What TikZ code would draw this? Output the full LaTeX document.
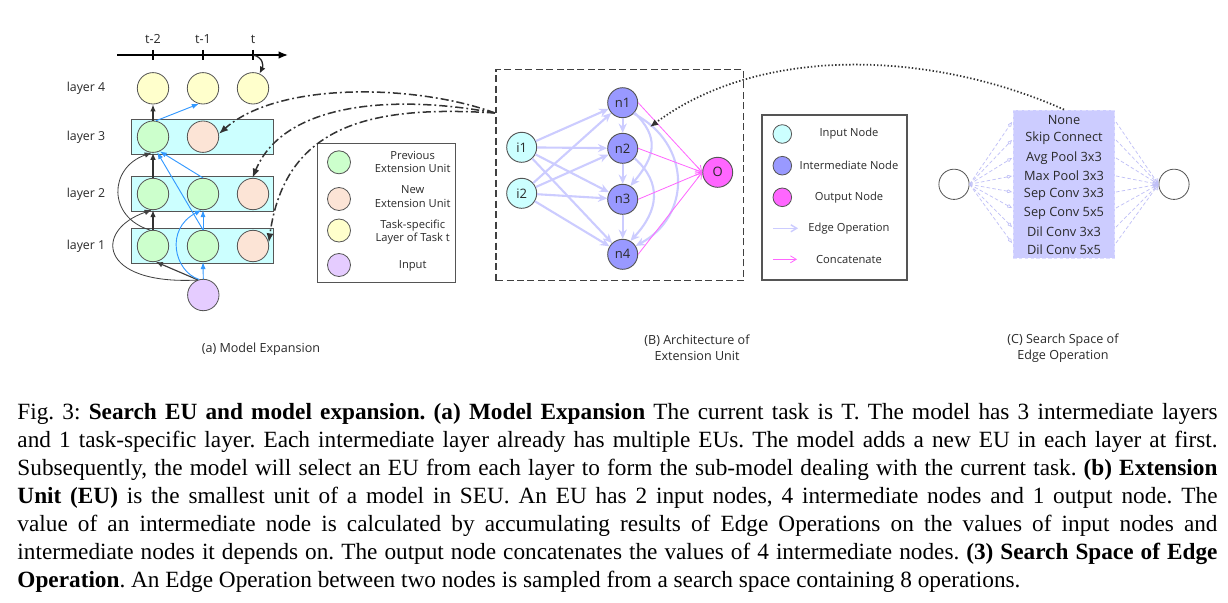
\documentclass[tikz,border=0pt]{standalone}
\usepackage{fontspec}
\setmainfont{Liberation Serif}
\newfontfamily\figfont{Open Sans}
\usetikzlibrary{arrows.meta}
\definecolor{cgreen}{HTML}{CCFFCC}
\definecolor{cpeach}{HTML}{FCE4D6}
\definecolor{cyell}{HTML}{FFFFCC}
\definecolor{cpurp}{HTML}{E5CCFF}
\definecolor{ccyan}{HTML}{CCFFFF}
\definecolor{cblue}{HTML}{3399FF}
\definecolor{cinter}{HTML}{9999FF}
\definecolor{cout}{HTML}{FF66FF}
\definecolor{clav}{HTML}{CCCCFF}
\definecolor{clavline}{HTML}{BFBFF7}
\definecolor{cedge}{HTML}{555555}
\definecolor{ctext}{HTML}{2A2A2A}
\frenchspacing
\begin{document}
\begin{tikzpicture}[x=0.43pt,y=-0.43pt,
  font=\figfont\fontsize{5.3}{6}\selectfont, text=ctext,
  unit/.style={circle, draw=cedge, line width=0.35pt, minimum size=13.5pt, inner sep=0pt},
  legc/.style={circle, draw=cedge, line width=0.35pt, minimum size=9.9pt, inner sep=0pt},
  legbc/.style={circle, draw=cedge, line width=0.35pt, minimum size=8pt, inner sep=0pt},
  layerbox/.style={draw=cedge, fill=ccyan, line width=0.5pt, minimum width=60.9pt, minimum height=15pt, inner sep=0pt},
  legtext/.style={align=center, font=\figfont\fontsize{4.8}{5.8}\selectfont},
  blk/.style={draw=black!80, line width=0.7pt, -{Latex[length=3pt,width=2.4pt]}},
  thinblk/.style={draw=black!75, line width=0.35pt, -{Latex[length=3pt,width=2.4pt]}},
  blu/.style={draw=cblue, line width=0.4pt, -{Latex[length=3pt,width=2.2pt]}},
  dashdot/.style={draw=black!80, line width=0.65pt, dash pattern=on 3.5pt off 1.3pt on 0.8pt off 1.3pt, -{Latex[length=4pt,width=3pt]}},
  euc/.style={circle, draw=cedge, line width=0.4pt, minimum size=12.9pt, inner sep=0pt, font=\figfont\fontsize{5.6}{6}\selectfont},
  eop/.style={draw=clav, line width=0.9pt, -{Stealth[length=4pt,width=3.5pt]}},
  cat/.style={draw=cout, line width=0.35pt, -{Straight Barb[length=2.5pt,width=3pt]}},
  ssline/.style={draw=clavline, line width=0.3pt, dash pattern=on 1.5pt off 1pt},
  optext/.style={font=\figfont\fontsize{5.5}{6}\selectfont, inner sep=0pt},
  caplabel/.style={align=center, font=\figfont\fontsize{5.4}{6.9}\selectfont}
]
\useasboundingbox (0,0) rectangle (1228,602);
\fill[white] (0,0) rectangle (1228,602);

% ---------------- (a) Model Expansion ----------------
\coordinate (ax0) at (117,55);
\coordinate (ax1) at (288,55);
\draw[line width=0.6pt, -{Latex[length=4pt,width=3.2pt]}] (ax0) -- (ax1);
\coordinate (tk1) at (153,55);
\coordinate (tk2) at (203,55);
\coordinate (tk3) at (253,55);
\foreach \t in {tk1,tk2,tk3} \draw[line width=0.6pt] ([yshift=2.2pt]\t) -- ([yshift=-2.2pt]\t);
\node[font=\figfont\fontsize{5.4}{6}\selectfont] (lt1) at (153,39) {t-2};
\node[font=\figfont\fontsize{5.4}{6}\selectfont] (lt2) at (203,39) {t-1};
\node[font=\figfont\fontsize{5.4}{6}\selectfont] (lt3) at (253,39) {t};

\node (lay4) at (86,88) {layer 4};
\node (lay3) at (86,137) {layer 3};
\node (lay2) at (86,194) {layer 2};
\node (lay1) at (86,246) {layer 1};

\node[layerbox] (r3) at (202.5,136.8) {};
\node[layerbox] (r2) at (202.5,194.2) {};
\node[layerbox] (r1) at (202.5,245.8) {};

\node[unit, fill=cyell] (L4a) at (153,88.3) {};
\node[unit, fill=cyell] (L4b) at (203,88.3) {};
\node[unit, fill=cyell] (L4c) at (253,88.3) {};
\node[unit, fill=cgreen] (L3a) at (153,136.7) {};
\node[unit, fill=cpeach] (L3b) at (203,136.7) {};
\node[unit, fill=cgreen] (L2a) at (153,194) {};
\node[unit, fill=cgreen] (L2b) at (203,194) {};
\node[unit, fill=cpeach] (L2c) at (253,194) {};
\node[unit, fill=cgreen] (L1a) at (153,246) {};
\node[unit, fill=cgreen] (L1b) at (203,246) {};
\node[unit, fill=cpeach] (L1c) at (253,246) {};
\node[unit, fill=cpurp] (inp) at (203.3,295) {};

\draw[black!85, line width=0.55pt, -{Latex[length=3pt,width=2.6pt]}] (tk3) .. controls +(10,2) and +(4,-8) .. (L4c.66);

\draw[blk] (L1a.north) -- (L2a.south);
\draw[blk] (L2a.north) -- (L3a.south);
\draw[blk] (L3a.north) -- (L4a.south);
\draw[thinblk, line width=0.5pt] (inp.110) -- (L1a.-80);
\draw[thinblk] (inp.112) .. controls +(-99,5) and +(-58,20) .. (L2a.-95);
\draw[thinblk] (L1a.100) .. controls +(-43,-13) and +(-43,15) .. (L3a.-95);

\draw[blu] (inp.north) -- (L1b.south);
\draw[blu] (inp.105) .. controls +(-25,-8) and +(-37,19) .. (L2b.-95);
\draw[blu] (L1b.north) -- (L2b.south);
\draw[blu] (L1b.north) -- (L3a.-75);
\draw[blu] (L2b.north) -- (L3a.-65);
\draw[blu] (L3a.80) -- (L4b.-105);

% legend (a)
\node[draw=cedge, line width=0.45pt, minimum width=59.5pt, minimum height=59.9pt, inner sep=0pt] (lega) at (386.5,213) {};
\node[legc, fill=cgreen] (lga1) at (339,162.3) {};
\node[legc, fill=cpeach] (lga2) at (339,199) {};
\node[legc, fill=cyell] (lga3) at (339,230.5) {};
\node[legc, fill=cpurp] (lga4) at (339,265) {};
\node[legtext] (lta1) at (412.7,161.7) {Previous\\Extension Unit};
\node[legtext] (lta2) at (412.7,196.7) {New\\Extension Unit};
\node[legtext] (lta3) at (412.7,232) {Task-specific\\Layer of Task t};
\node[legtext] (lta4) at (412.7,266) {Input};

% ---------------- (B) Architecture ----------------
\node[draw=black!75, line width=0.6pt, dash pattern=on 3pt off 1.5pt, minimum width=106.3pt, minimum height=90.9pt, inner sep=0pt] (eubox) at (619.7,175) {};
\coordinate (ddstart) at (495,113);

\draw[dashdot] (ddstart) .. controls (420,85) and (280,80) .. (L3b.10);
\draw[dashdot] (ddstart) .. controls (400,95) and (285,100) .. (L2c.92);
\draw[dashdot] (ddstart) .. controls (370,105) and (285,125) .. (L1c.12);

\node[euc, fill=ccyan] (i1) at (521.7,147.3) {i1};
\node[euc, fill=ccyan] (i2) at (521.7,193.3) {i2};
\node[euc, fill=cinter] (n1) at (622.7,102.7) {n1};
\node[euc, fill=cinter] (n2) at (622.7,148.3) {n2};
\node[euc, fill=cinter] (n3) at (622.7,199.3) {n3};
\node[euc, fill=cinter] (n4) at (622.7,254.3) {n4};
\node[euc, fill=cout] (o) at (717.7,172.3) {O};

\foreach \a in {i1,i2} \foreach \b in {n1,n2,n3,n4} \draw[eop] (\a) -- (\b);
\draw[eop] (n1) -- (n2);
\draw[eop] (n2) -- (n3);
\draw[eop] (n3) -- (n4);
\draw[eop] (n1.-40) .. controls +(25,25) and +(25,-30) .. (n3.60);
\draw[eop] (n2.-40) .. controls +(28,25) and +(28,-30) .. (n4.60);
\draw[eop] (n1.-45) .. controls +(58,30) and +(56,-30) .. (n4.33);
\foreach \b in {n1,n2,n3,n4} \draw[cat] (\b.east) -- (o.west);

% legend (B)
\node[draw=cedge, line width=0.45pt, minimum width=62.35pt, minimum height=70.95pt, inner sep=0pt] (legb) at (834.5,197.5) {};
\node[legbc, fill=ccyan] (lgb1) at (782.3,134) {};
\node[legbc, fill=cinter] (lgb2) at (782.3,165.7) {};
\node[legbc, fill=cout] (lgb3) at (782.3,197.3) {};
\coordinate (lgb4a) at (773,228.3);
\coordinate (lgb4b) at (798,228.3);
\coordinate (lgb5a) at (773,259.3);
\coordinate (lgb5b) at (797,259.3);
\draw[draw=clav, line width=0.6pt, -{Straight Barb[length=2.5pt,width=3pt]}] (lgb4a) -- (lgb4b);
\draw[cat] (lgb5a) -- (lgb5b);
\node[legtext] (ltb1) at (849,134) {Input Node};
\node[legtext] (ltb2) at (849,165.7) {Intermediate Node};
\node[legtext] (ltb3) at (849,197.3) {Output Node};
\node[legtext] (ltb4) at (849,228.3) {Edge Operation};
\node[legtext] (ltb5) at (849,259.3) {Concatenate};

% ---------------- (C) Search Space ----------------
\node[fill=clav, draw=white!40!clav, line width=0.4pt, dash pattern=on 1.5pt off 1pt, minimum width=43.7pt, minimum height=63.8pt, inner sep=0pt] (ss) at (1064,184.2) {};
\node[unit, minimum size=13pt, fill=white] (sL) at (954,184.3) {};
\node[unit, minimum size=13pt, fill=white] (sR) at (1174,184.3) {};
\node[optext] (op1) at (1064,120) {None};
\node[optext] (op2) at (1064,138.3) {Skip Connect};
\node[optext] (op3) at (1064,157.7) {Avg Pool 3x3};
\node[optext] (op4) at (1064,176) {Max Pool 3x3};
\node[optext] (op5) at (1064,194.3) {Sep Conv 3x3};
\node[optext] (op6) at (1064,213) {Sep Conv 5x5};
\node[optext] (op7) at (1064,231.3) {Dil Conv 3x3};
\node[optext] (op8) at (1064,250) {Dil Conv 5x5};
\foreach \k/\yy in {1/122,2/140,3/158,4/176,5/192,6/208,7/227,8/243} {
  \coordinate (sl\k) at (1012,\yy);
  \coordinate (sr\k) at (1116,\yy);
  \draw[ssline, -{Kite[open, length=2.4pt, width=1.6pt]}] (sL.east) -- (sl\k);
  \draw[ssline, -{Straight Barb[length=2pt,width=2.4pt]}] (sr\k) -- (sR.west);
}

\coordinate (dotend) at (650,127);
\draw[black!80, line width=0.75pt, dash pattern=on 0.6pt off 0.9pt, -{Latex[length=3.5pt,width=3pt]}] (ss.north) .. controls (930,50) and (760,45) .. (dotend);

% captions of panels
\node[caplabel] (capa) at (261,349) {(a) Model Expansion};
\node[caplabel] (capb) at (697,348) {(B) Architecture of\\Extension Unit};
\node[caplabel] (capc) at (1063,348) {(C) Search Space of\\Edge Operation};

% ---------------- Figure caption ----------------
\node[anchor=north west, inner sep=0pt, text width=516pt, align=justify, text=black,
      font=\rmfamily\fontsize{10}{12}\selectfont\frenchspacing] (cap) at (17,403) {%
Fig.~3: \textbf{Search EU and model expansion. (a) Model Expansion} The current task is T. The model has 3 intermediate layers\linebreak
and 1 task-specific layer. Each intermediate layer already has multiple EUs. The model adds a new EU in each layer at first.\linebreak
Subsequently, the model will select an EU from each layer to form the sub-model dealing with the current task. \textbf{(b) Extension\linebreak
Unit (EU)} is the smallest unit of a model in SEU. An EU has 2 input nodes, 4 intermediate nodes and 1 output node. The\linebreak
value of an intermediate node is calculated by accumulating results of Edge Operations on the values of input nodes and\linebreak
intermediate nodes it depends on. The output node concatenates the values of 4 intermediate nodes. \textbf{(3) Search Space of Edge\linebreak
Operation}. An Edge Operation between two nodes is sampled from a search space containing 8 operations.};
\end{tikzpicture}
\end{document}
